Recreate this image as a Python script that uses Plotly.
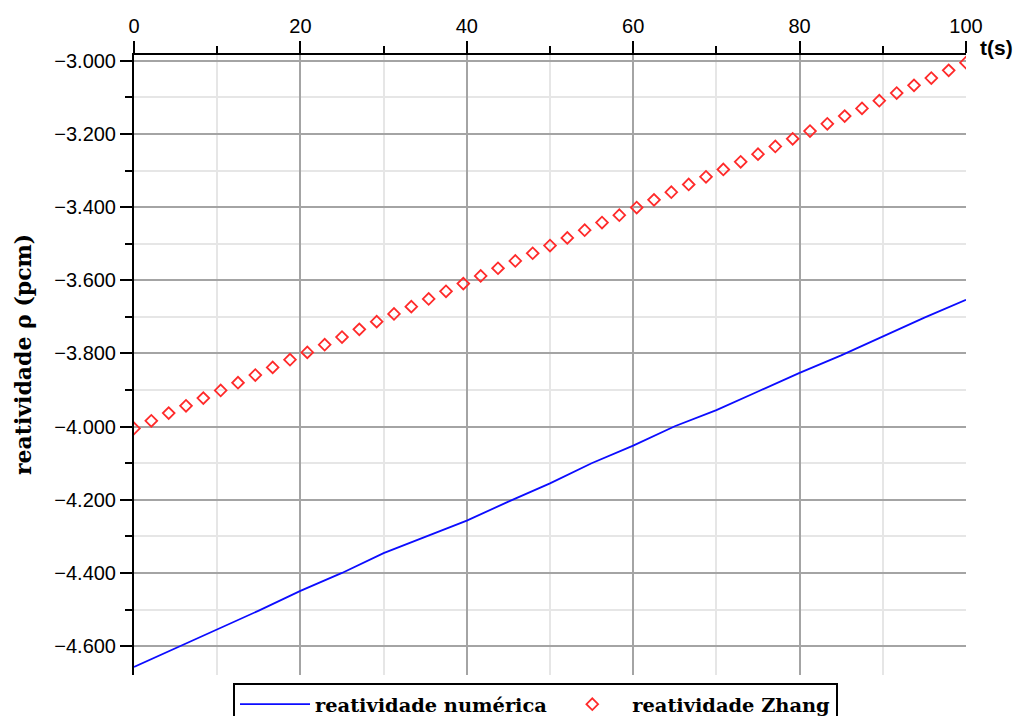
import plotly.graph_objects as go

# Numerical reactivity (pcm) sampled every 5 s
t_num = [0, 5, 10, 15, 20, 25, 30, 35, 40, 45, 50,
         55, 60, 65, 70, 75, 80, 85, 90, 95, 100]
rho_num = [-4657, -4606, -4556, -4503, -4449, -4400, -4346, -4301, -4257, -4205, -4155,
           -4100, -4052, -3999, -3955, -3904, -3853, -3805, -3753, -3702, -3653]

# Zhang reactivity (pcm), 49 samples over 100 s
t_zhang = [0.00, 2.08, 4.17, 6.25, 8.33, 10.42, 12.50, 14.58, 16.67, 18.75,
           20.83, 22.92, 25.00, 27.08, 29.17, 31.25, 33.33, 35.42, 37.50, 39.58,
           41.67, 43.75, 45.83, 47.92, 50.00, 52.08, 54.17, 56.25, 58.33, 60.42,
           62.50, 64.58, 66.67, 68.75, 70.83, 72.92, 75.00, 77.08, 79.17, 81.25,
           83.33, 85.42, 87.50, 89.58, 91.67, 93.75, 95.83, 97.92, 100.00]
rho_zhang = [-4005, -3984, -3963, -3943, -3922, -3901, -3880, -3859, -3838, -3817,
             -3797, -3776, -3755, -3734, -3713, -3692, -3672, -3651, -3630, -3609,
             -3588, -3567, -3547, -3526, -3505, -3484, -3463, -3442, -3422, -3401,
             -3380, -3359, -3338, -3317, -3297, -3276, -3255, -3234, -3213, -3192,
             -3172, -3151, -3130, -3109, -3088, -3067, -3047, -3026, -3005]

x_ticks = [0, 20, 40, 60, 80, 100]
y_ticks = [-4600, -4400, -4200, -4000, -3800, -3600, -3400, -3200, -3000]
y_ticktext = ["\u22124.600", "\u22124.400", "\u22124.200", "\u22124.000", "\u22123.800",
              "\u22123.600", "\u22123.400", "\u22123.200", "\u22123.000"]
y_minor = [-4500, -4300, -4100, -3900, -3700, -3500, -3300, -3100]

SERIF = "DejaVu Serif"
SANS = "Liberation Sans"

fig = go.Figure()
fig.add_trace(go.Scatter(
    x=t_num, y=rho_num, mode="lines",
    name="<b>reatividade numérica</b>",
    line=dict(color="#0c0cff", width=1.8),
))
fig.add_trace(go.Scatter(
    x=t_zhang, y=rho_zhang, mode="markers",
    name="<b>reatividade Zhang</b>",
    marker=dict(symbol="diamond-open", size=9, color="#ff2a2a",
                line=dict(width=1.8, color="#ff2a2a")),
))

fig.update_layout(
    width=1020, height=716,
    margin=dict(l=134, r=54, t=55, b=41, autoexpand=False),
    paper_bgcolor="white", plot_bgcolor="white",
    showlegend=True,
    legend=dict(
        orientation="h",
        x=0.119, xanchor="left",
        y=-0.013, yanchor="top",
        font=dict(family=SERIF, size=19.4, color="black"),
        bordercolor="black", borderwidth=2,
        bgcolor="white",
        itemwidth=70,
        tracegroupgap=0,
    ),
    xaxis=dict(
        side="top",
        range=[0, 100],
        tickvals=x_ticks,
        ticks="outside", ticklen=12, tickwidth=2, tickcolor="black",
        showline=True, linecolor="black", linewidth=2,
        showgrid=True, gridcolor="#a4a4a4", gridwidth=2,
        zeroline=False,
        tickfont=dict(family=SANS, size=20, color="black"),
        minor=dict(dtick=10, ticks="outside", ticklen=7, tickwidth=2,
                   tickcolor="black", showgrid=True, gridcolor="#e6e6e6",
                   gridwidth=2),
    ),
    yaxis=dict(
        range=[-4679, -2984],
        tickvals=y_ticks, ticktext=y_ticktext,
        ticks="outside", ticklen=12, tickwidth=2, tickcolor="black",
        showline=True, linecolor="black", linewidth=2,
        showgrid=True, gridcolor="#a4a4a4", gridwidth=2,
        zeroline=False,
        tickfont=dict(family=SANS, size=20, color="black"),
        minor=dict(tickvals=y_minor,
                   ticks="outside", ticklen=7, tickwidth=2,
                   tickcolor="black", showgrid=True, gridcolor="#e6e6e6",
                   gridwidth=2),
    ),
    annotations=[
        dict(text="<b>t(s)</b>", xref="paper", yref="paper", x=1, y=1,
             xanchor="left", yanchor="middle", xshift=12, yshift=8,
             showarrow=False, font=dict(family=SANS, size=21, color="black")),
        dict(text="<b>reatividade ρ (pcm)</b>", xref="paper", yref="paper",
             x=0, y=0.516, xanchor="center", yanchor="middle", xshift=-111,
             textangle=-90, showarrow=False,
             font=dict(family=SERIF, size=22, color="black")),
    ],
)

fig.write_html("out.html")
